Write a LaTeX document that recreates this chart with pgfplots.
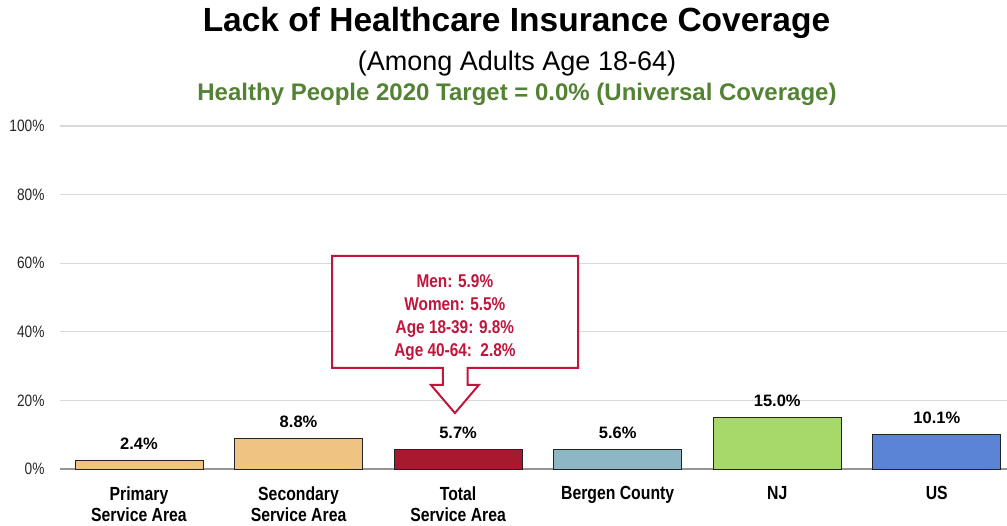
\documentclass[border=0pt]{standalone}
\usepackage{fontspec}
\setmainfont{Liberation Sans}
\newfontfamily\narrow[FakeStretch=0.83]{Liberation Sans}
\usepackage{pgfplots}
\pgfplotsset{compat=1.18}
\definecolor{tanbar}{RGB}{239,196,131}
\definecolor{crimbar}{RGB}{166,25,46}
\definecolor{bergen}{RGB}{141,183,196}
\definecolor{njbar}{RGB}{166,216,106}
\definecolor{usbar}{RGB}{91,132,214}
\definecolor{callred}{RGB}{192,22,60}
\definecolor{tgtgreen}{RGB}{84,130,53}
\definecolor{gridgray}{RGB}{217,217,217}
\definecolor{axgray}{RGB}{150,150,150}
\definecolor{edge}{RGB}{35,35,35}
\pgfplotsset{
  mybar/.style={ybar, bar width=128pt, bar shift=0pt, draw=edge, line width=0.9pt, fill=#1,
    nodes near coords={\pgfmathprintnumber[fixed,fixed zerofill,precision=1]{\pgfplotspointmeta}\%},
    every node near coord/.append style={anchor=base, yshift=11pt, text=black,
      font=\fontsize{16.5}{18}\selectfont\bfseries}}
}
\begin{document}
\begin{tikzpicture}[x=1pt,y=1pt]
\begin{axis}[
  at={(60pt,57pt)}, anchor=south west,
  scale only axis, width=947pt, height=343pt,
  xmin=-0.495, xmax=5.44, ymin=0, ymax=100,
  clip=false,
  /pgf/number format/assume math mode=true,
  axis x line*=bottom, axis y line*=left,
  x axis line style={draw=axgray, line width=1.2pt},
  y axis line style={draw=none},
  major tick length=0pt,
  ytick={0,20,40,60,80,100},
  yticklabels={0\%,20\%,40\%,60\%,80\%,100\%},
  yticklabel style={font=\narrow\fontsize{16.5}{18}\selectfont, text=black!85, xshift=-12pt},
  ymajorgrids, major grid style={draw=gridgray, line width=1.2pt},
  xtick={0,1,2,3,4,5},
  xticklabels={{Primary\\Service Area},{Secondary\\Service Area},{Total\\Service Area},{Bergen County},{NJ},{US}},
  xticklabel style={align=center, anchor=north, yshift=-14pt,
    font=\narrow\fontsize{19}{21.5}\selectfont\bfseries},
]
\addplot[mybar=tanbar] coordinates {(0,2.4)};
\addplot[mybar=tanbar] coordinates {(1,8.8)};
\addplot[mybar=crimbar] coordinates {(2,5.7)};
\addplot[mybar=bergen] coordinates {(3,5.6)};
\addplot[mybar=njbar] coordinates {(4,15.0)};
\addplot[mybar=usbar] coordinates {(5,10.1)};
\draw[callred, line width=2pt, fill=white, line join=miter]
  (axis cs:1.21,62.1) -- (axis cs:2.752,62.1) -- (axis cs:2.752,29.45)
  -- (axis cs:2.06,29.45) -- (axis cs:2.06,24.5) -- (axis cs:2.13,24.5)
  -- (axis cs:1.98,16.3) -- (axis cs:1.83,24.5) -- (axis cs:1.905,24.5)
  -- (axis cs:1.905,29.45) -- (axis cs:1.21,29.45) -- cycle;
\node[align=center, text=callred, font=\narrow\fontsize{18.5}{23}\selectfont\bfseries]
  at (axis cs:1.98,44.2) {Men: 5.9\%\\Women: 5.5\%\\Age 18-39: 9.8\%\\Age 40-64:\ \ 2.8\%};
\end{axis}
\node[anchor=base, font=\fontsize{33.5}{37}\selectfont\bfseries] at (516.5,494) {Lack of Healthcare Insurance Coverage};
\node[anchor=base, font=\fontsize{27}{31}\selectfont] at (517,455) {(Among Adults Age 18-64)};
\node[anchor=base, text=tgtgreen, font=\fontsize{24}{28}\selectfont\bfseries] at (517,425) {Healthy People 2020 Target = 0.0\% (Universal Coverage)};
\pgfresetboundingbox
\useasboundingbox (0,0) rectangle (1007,526);
\end{tikzpicture}
\end{document}
